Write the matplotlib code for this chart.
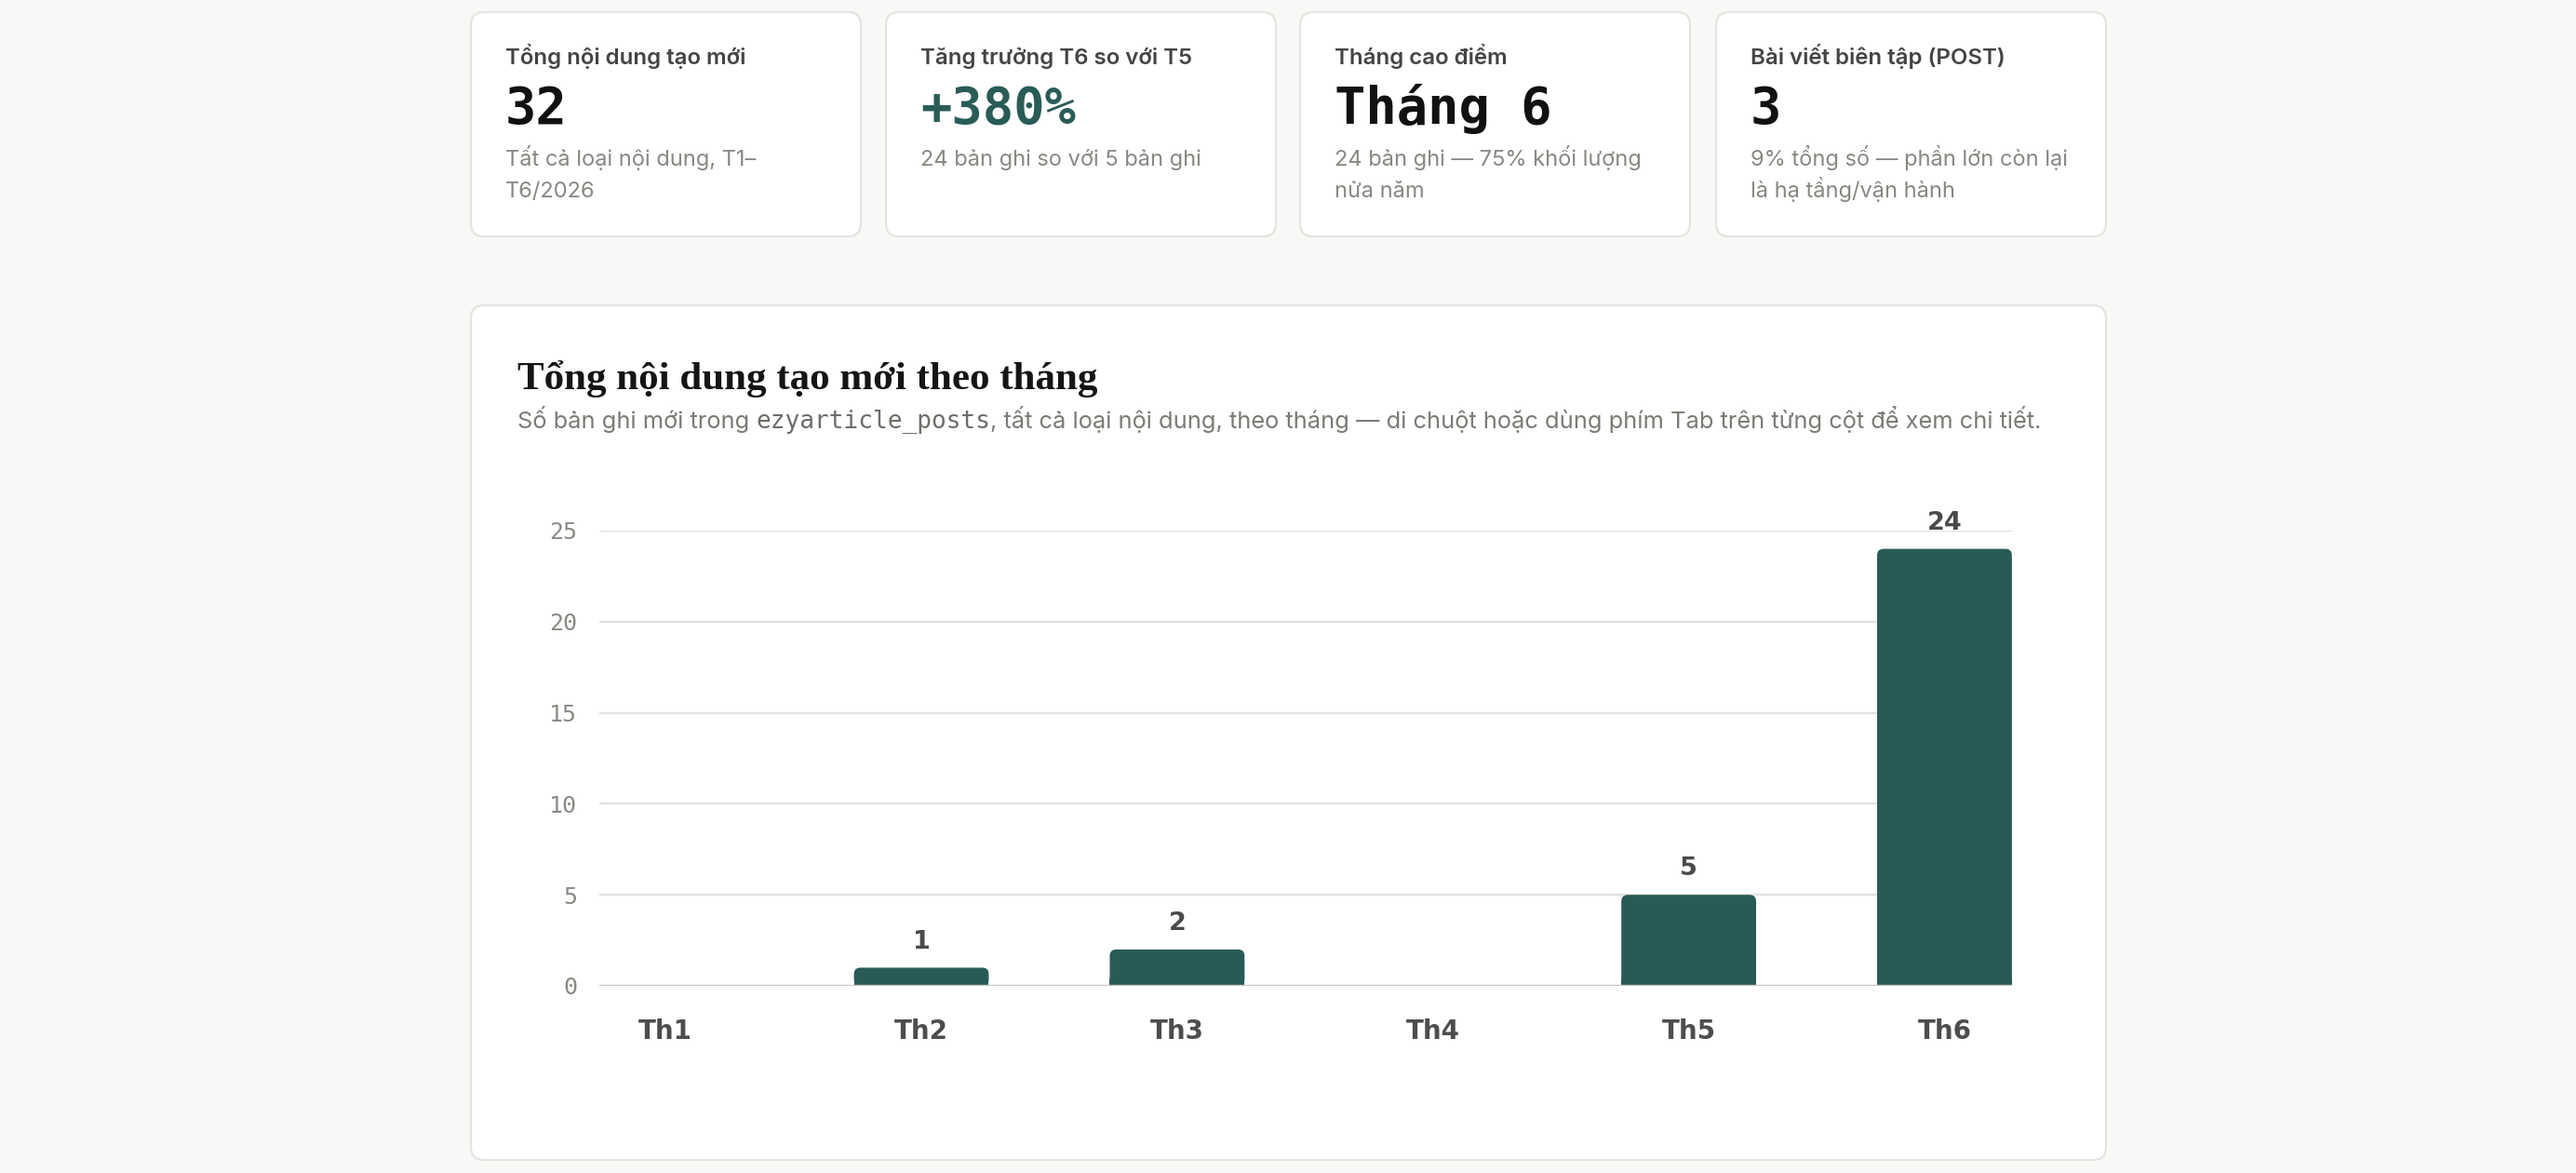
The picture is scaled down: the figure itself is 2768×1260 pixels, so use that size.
import matplotlib
matplotlib.use("Agg")
import matplotlib.pyplot as plt
from matplotlib.patches import FancyBboxPatch, Rectangle

# ---------------- data ----------------
months = ["Th1", "Th2", "Th3", "Th4", "Th5", "Th6"]
counts = [0, 1, 2, 0, 5, 24]
yticks = [0, 5, 10, 15, 20, 25]

kpi_labels = ["Tổng nội dung tạo mới", "Tăng trưởng T6 so với T5",
              "Tháng cao điểm", "Bài viết biên tập (POST)"]
kpi_values = ["32", "+380%", "Tháng 6", "3"]
kpi_notes = [["Tất cả loại nội dung, T1–", "T6/2026"],
             ["24 bản ghi so với 5 bản ghi"],
             ["24 bản ghi — 75% khối lượng", "nửa năm"],
             ["9% tổng số — phần lớn còn lại", "là hạ tầng/vận hành"]]
kpi_value_colors = ["#111111", "#2a5c57", "#111111", "#111111"]

title = "Tổng nội dung tạo mới theo tháng"
subtitle_parts = [("Số bản ghi mới trong", "sans"),
                  ("ezyarticle_posts", "mono"),
                  (", tất cả loại nội dung, theo tháng — di chuột hoặc dùng phím Tab trên từng cột để xem chi tiết.", "sans")]

# ---------------- style ----------------
BG = "#f8f8f6"
CARD = "#ffffff"
BORDER = "#e4e4e0"
GREEN = "#295b56"
SANS = ["Inter", "DejaVu Sans"]
MONO = ["DejaVu Sans Mono"]
SERIF = ["Liberation Serif", "DejaVu Serif"]

W, H = 2768, 1260
fig = plt.figure(figsize=(W / 100, H / 100), dpi=100)
fig.patch.set_facecolor(BG)

bg = fig.add_axes([0, 0, 1, 1], zorder=0)
bg.set_xlim(0, W)
bg.set_ylim(H, 0)
bg.axis("off")


def card(x0, y0, x1, y1):
    p = FancyBboxPatch((x0, y0), x1 - x0, y1 - y0,
                       boxstyle="round,pad=0,rounding_size=14",
                       facecolor=CARD, edgecolor=BORDER, linewidth=1.6)
    bg.add_patch(p)


# KPI cards
card_x = [506, 952, 1397, 1844]
card_w = 419
for i in range(4):
    x0 = card_x[i]
    card(x0, 13, x0 + card_w, 254)
    tx = x0 + 37
    bg.text(tx, 69, kpi_labels[i], family=SANS, fontsize=17.3,
            fontweight="semibold", color="#444444", va="baseline", ha="left")
    bg.text(tx, 133, kpi_values[i], family=MONO, fontsize=40,
            fontweight="bold", color=kpi_value_colors[i], va="baseline", ha="left")
    for j, line in enumerate(kpi_notes[i]):
        bg.text(tx, 178 + 34 * j, line, family=SANS, fontsize=17,
                color="#8a8782", va="baseline", ha="left")

# Chart card
card(506, 328, 2263, 1246)
bg.text(556, 418, title, family=SERIF, fontsize=31, color="#151515",
        va="baseline", ha="left", fontweight="bold")

renderer = fig.canvas.get_renderer()
x = 556
for k, (txt, kind) in enumerate(subtitle_parts):
    if kind == "mono":
        t = bg.text(x, 460, txt, family=MONO, fontsize=18.8, color="#6f6c68",
                    va="baseline", ha="left")
    else:
        t = bg.text(x, 460, txt, family=SANS, fontsize=18.3, color="#7d7a75",
                    va="baseline", ha="left")
    ext = t.get_window_extent(renderer)
    x = ext.x1
    if k == 0:
        x += 7

# ---------------- chart axes ----------------
ax_left, ax_right = 644, 2162
ax_bottom, ax_top = 1059, 570
ax = fig.add_axes([ax_left / W, 1 - ax_bottom / H,
                   (ax_right - ax_left) / W, (ax_bottom - ax_top) / H], zorder=2)
ax.set_facecolor("none")
xs = list(range(len(months)))
xlim = (-0.259, 5.264)
ax.set_xlim(*xlim)
ax.set_ylim(0, 25)

bar_w = 0.527
bars = ax.bar(xs, counts, width=bar_w, color=GREEN, zorder=3)

# rounded tops
r_px = 7
rx = r_px * (xlim[1] - xlim[0]) / (ax_right - ax_left)
ry = r_px * 25 / (ax_bottom - ax_top)
for b in bars:
    h = b.get_height()
    b.set_visible(False)
    if h <= 0:
        continue
    bx, bw = b.get_x(), b.get_width()
    p = FancyBboxPatch((bx, 0), bw, h,
                       boxstyle=f"round,pad=0,rounding_size={rx}",
                       mutation_aspect=ry / rx, facecolor=GREEN,
                       edgecolor="none", zorder=3)
    ax.add_patch(p)
    ax.add_patch(Rectangle((bx, 0), bw, min(h, ry * 1.2), facecolor=GREEN,
                           edgecolor="none", zorder=3))

for i, v in enumerate(counts):
    if v > 0:
        ax.annotate(str(v), (xs[i], v), xytext=(0, 15), textcoords="offset points",
                    ha="center", va="baseline", family="DejaVu Sans", fontweight="bold",
                    fontsize=19.5, color="#4a4a4a", annotation_clip=False)

ax.set_yticks(yticks)
ax.set_yticklabels([str(t) for t in yticks], family=MONO, fontsize=18, color="#8a8a85")
ax.set_xticks(xs)
ax.set_xticklabels(months, family="DejaVu Sans", fontweight="bold", fontsize=20, color="#4d4d4d")
ax.tick_params(axis="y", length=0, pad=17)
ax.tick_params(axis="x", length=0, pad=25)
for s in ax.spines.values():
    s.set_visible(False)
for t in yticks:
    ax.axhline(t, color="#c9c8c1" if t == 0 else "#e3e2dd", linewidth=1.7,
               zorder=4 if t == 0 else 1)

fig.savefig("out.png", dpi=100, facecolor=BG)
